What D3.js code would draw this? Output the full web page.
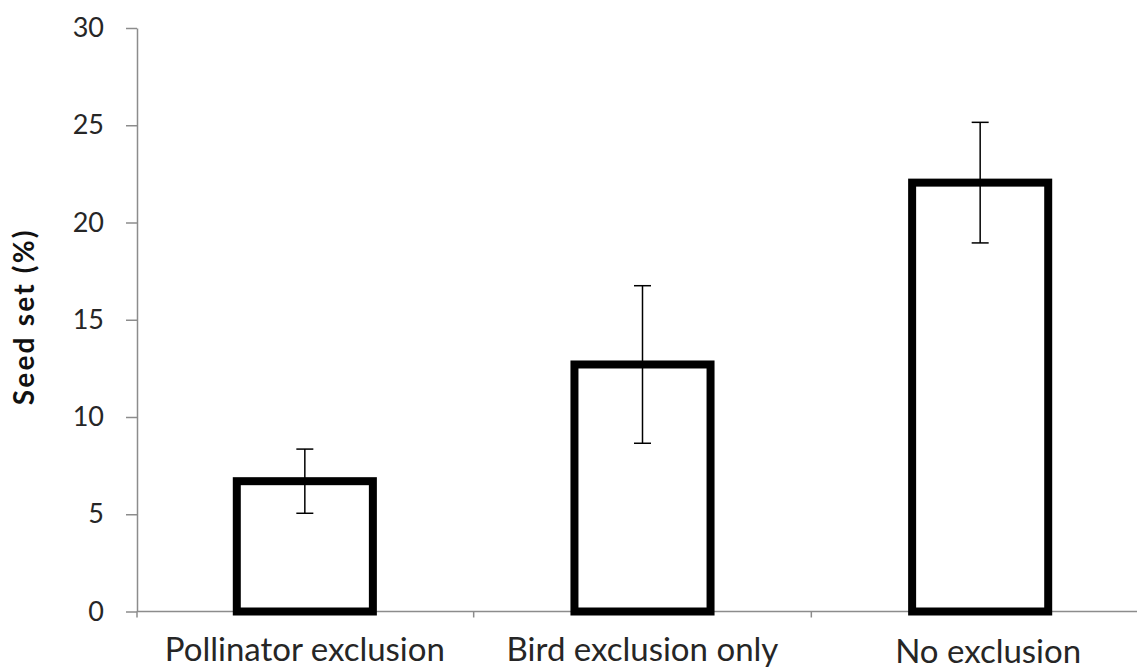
<!DOCTYPE html>
<html>
<head>
<meta charset="utf-8">
<script src="https://cdn.jsdelivr.net/npm/d3@7"></script>
<style>
  html, body { margin: 0; padding: 0; background: #fff; }
  svg { display: block; font-family: Lato, "Open Sans", sans-serif; }
  .tick text { fill: #262626; }
</style>
</head>
<body>
<div id="chart"></div>
<script>
// Treatments and seed set values (%)
const categories = ["Pollinator exclusion", "Bird exclusion only", "No exclusion"];
const seedSet = [6.7, 12.7, 22.05];
const seedSetErr = [1.65, 4.05, 3.1];
const yTicks = [0, 5, 10, 15, 20, 25, 30];

const width = 1137;
const height = 670;

const svg = d3.select('#chart')
    .append('svg')
    .attr('width', width)
    .attr('height', height);

// Scales (the plot area runs a little past the right edge of the picture)
const y = d3.scaleLinear().domain([0, 30]).range([611.5, 28]);
const x = d3.scaleBand()
    .domain(categories)
    .range([136, 1149])
    .paddingInner(0.597)
    .paddingOuter(0.2985);

// Y axis
const yAxis = svg.append('g')
    .attr('transform', 'translate(137,0)')
    .call(d3.axisLeft(y).tickValues(yTicks).tickSize(11).tickPadding(22).tickSizeOuter(0));
yAxis.select('.domain').attr('stroke', '#8c8c8c').attr('stroke-width', 1.5);
yAxis.selectAll('.tick line').attr('stroke', '#8c8c8c').attr('stroke-width', 1.5);
yAxis.selectAll('.tick text')
    .attr('font-size', 27)
    .attr('font-family', 'Lato, sans-serif');

// Y axis title
svg.append('text')
    .attr('transform', `translate(27,${(y(0) + y(30)) / 2 - 3}) rotate(-90)`)
    .attr('text-anchor', 'middle')
    .attr('dominant-baseline', 'middle')
    .attr('font-size', 28)
    .attr('font-weight', 'bold')
    .attr('letter-spacing', 2.2)
    .attr('fill', '#111')
    .text('Seed set (%)');

// X axis baseline across the plot
svg.append('line')
    .attr('x1', 137).attr('x2', width)
    .attr('y1', y(0)).attr('y2', y(0))
    .attr('stroke', '#8c8c8c')
    .attr('stroke-width', 1.5);

// Category boundary ticks
const gap = (x.step() - x.bandwidth()) / 2;
const boundaries = categories.slice(0, -1).map(c => x(c) + x.bandwidth() + gap);
svg.selectAll('.cat-tick')
    .data(boundaries)
    .enter().append('line')
    .attr('class', 'cat-tick')
    .attr('x1', d => d).attr('x2', d => d)
    .attr('y1', y(0)).attr('y2', y(0) + 6)
    .attr('stroke', '#8c8c8c')
    .attr('stroke-width', 1.5);
svg.append('line')
    .attr('x1', 137).attr('x2', 137)
    .attr('y1', y(0)).attr('y2', y(0) + 6)
    .attr('stroke', '#8c8c8c')
    .attr('stroke-width', 1.5);

// Bars
svg.selectAll('.bar')
    .data(categories)
    .enter().append('rect')
    .attr('class', 'bar')
    .attr('x', d => x(d))
    .attr('y', (d, i) => y(seedSet[i]))
    .attr('width', x.bandwidth())
    .attr('height', (d, i) => y(0) - y(seedSet[i]))
    .attr('fill', '#fff')
    .attr('stroke', '#000')
    .attr('stroke-width', 8);

// Error bars
const capHalf = 8.5;
const err = svg.selectAll('.err')
    .data(categories)
    .enter().append('g')
    .attr('class', 'err')
    .attr('stroke', '#000')
    .attr('stroke-width', 1.5);
err.append('line')
    .attr('x1', d => x(d) + x.bandwidth() / 2)
    .attr('x2', d => x(d) + x.bandwidth() / 2)
    .attr('y1', (d, i) => y(seedSet[i] + seedSetErr[i]))
    .attr('y2', (d, i) => y(seedSet[i] - seedSetErr[i]));
err.append('line')
    .attr('x1', d => x(d) + x.bandwidth() / 2 - capHalf)
    .attr('x2', d => x(d) + x.bandwidth() / 2 + capHalf)
    .attr('y1', (d, i) => y(seedSet[i] + seedSetErr[i]))
    .attr('y2', (d, i) => y(seedSet[i] + seedSetErr[i]));
err.append('line')
    .attr('x1', d => x(d) + x.bandwidth() / 2 - capHalf)
    .attr('x2', d => x(d) + x.bandwidth() / 2 + capHalf)
    .attr('y1', (d, i) => y(seedSet[i] - seedSetErr[i]))
    .attr('y2', (d, i) => y(seedSet[i] - seedSetErr[i]));

// Category labels
svg.selectAll('.cat-label')
    .data(categories)
    .enter().append('text')
    .attr('class', 'cat-label')
    .attr('x', (d, i) => x(d) + x.bandwidth() / 2 + (i === 2 ? 8 : 0))
    .attr('y', (d, i) => i === 2 ? 663 : 661)
    .attr('text-anchor', 'middle')
    .attr('font-size', 33)
    .attr('fill', '#262626')
    .text(d => d);
</script>
</body>
</html>
